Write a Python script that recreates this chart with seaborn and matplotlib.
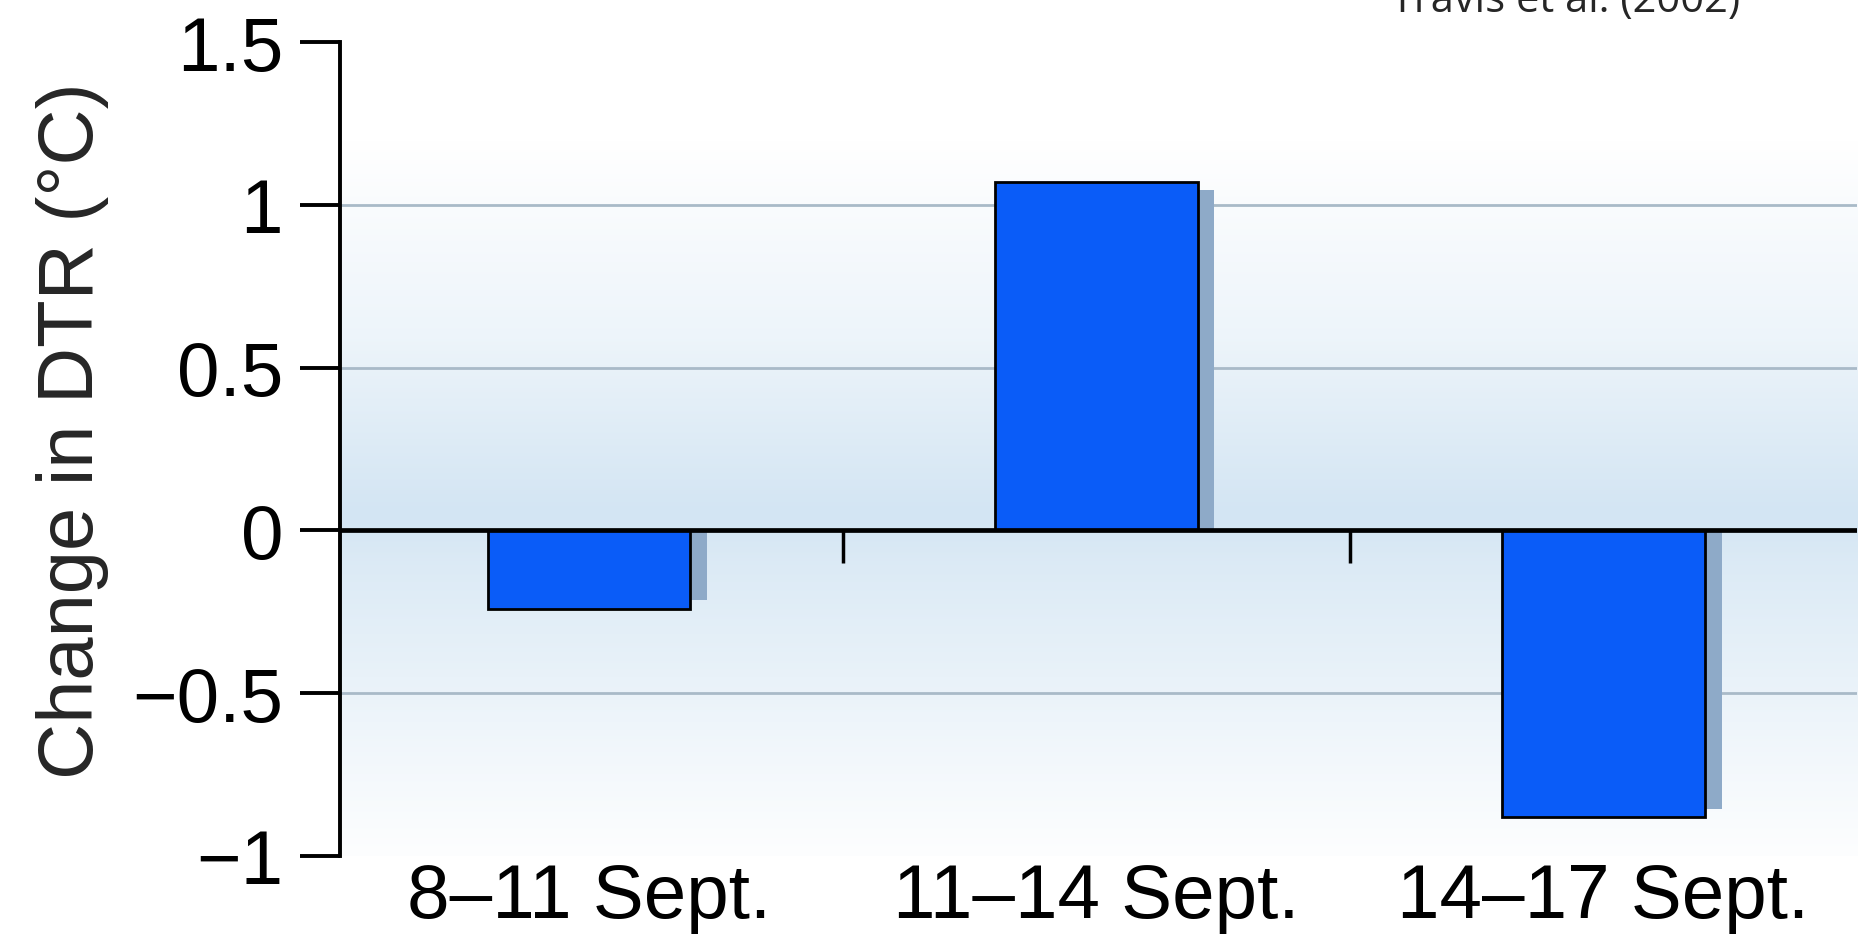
import numpy as np
import pandas as pd
import matplotlib
matplotlib.use("Agg")
import matplotlib.pyplot as plt
import seaborn as sns
from matplotlib.colors import LinearSegmentedColormap

# 数据
periods = ["8–11 Sept.", "11–14 Sept.", "14–17 Sept."]
dtr_change = [-0.24, 1.07, -0.88]
y_ticks = [-1, -0.5, 0, 0.5, 1, 1.5]
y_tick_labels = ["−1", "−0.5", "0", "0.5", "1", "1.5"]

df = pd.DataFrame({"Period": periods, "Change": dtr_change})

sns.set_style("white")
plt.rcParams["font.family"] = ["Liberation Sans", "DejaVu Sans"]

fig = plt.figure(figsize=(18.66, 9.37), dpi=100)
ax = fig.add_axes([0.1822, 0.0854, 0.813, 0.8687])

xlim = (-0.491, 2.5)
ylim = (-1, 1.5)

# 背景渐变（浅蓝）
grad_y = np.linspace(ylim[0], ylim[1], 400)
strength = np.interp(grad_y, [-1, -0.75, -0.1, 0.05, 0.6, 1.2, 1.5],
                     [0.05, 0.25, 0.8, 1.0, 0.4, 0.0, 0.0])
cmap = LinearSegmentedColormap.from_list("bg", ["#ffffff", "#d3e5f3"])
ax.imshow(strength[:, None], extent=[xlim[0], xlim[1], ylim[0], ylim[1]],
          origin="lower", aspect="auto", cmap=cmap, vmin=0, vmax=1, zorder=0)

# 网格线
for yv in [1, 0.5, -0.5]:
    ax.axhline(yv, color="#a9bac8", lw=2, zorder=1)

# 阴影
pos = np.arange(len(periods))
vals = np.array(dtr_change)
ax.bar(pos + 0.033, vals - np.sign(vals) * 0.025, width=0.4,
       color="#8eaac8", zorder=2, linewidth=0)

# 柱子
sns.barplot(data=df, x="Period", y="Change", color="#0a5cf8", saturation=1,
            width=0.4, edgecolor="black", linewidth=2, ax=ax, zorder=3)

# 零线和分隔刻度
ax.axhline(0, color="black", lw=3.4, zorder=4)
ax.vlines(pos[:-1] + 0.5, -0.1, 0, color="black", lw=2.5, zorder=4)

ax.set_xlim(*xlim)
ax.set_ylim(*ylim)
ax.set_yticks(y_ticks)
ax.set_yticklabels(y_tick_labels)

for s in ["top", "right", "bottom"]:
    ax.spines[s].set_visible(False)
ax.spines["left"].set_color("black")
ax.spines["left"].set_linewidth(2.8)

ax.tick_params(axis="y", direction="out", length=29, width=2.8, pad=12,
               labelsize=55, left=True, colors="black")
ax.tick_params(axis="x", length=0, pad=4, labelsize=55, colors="black")

ax.set_xlabel("")
ax.set_ylabel("Change in DTR (°C)", fontsize=56)
ax.yaxis.set_label_coords((109 - 340) / (1857 - 340), (857 - 431) / (857 - 43))

fig.text(0.839, 1 - 12 / 937, "Travis et al. (2002)", fontsize=30,
         ha="center", va="baseline", family=["Open Sans", "DejaVu Sans"])

fig.savefig("out.png", dpi=100)
